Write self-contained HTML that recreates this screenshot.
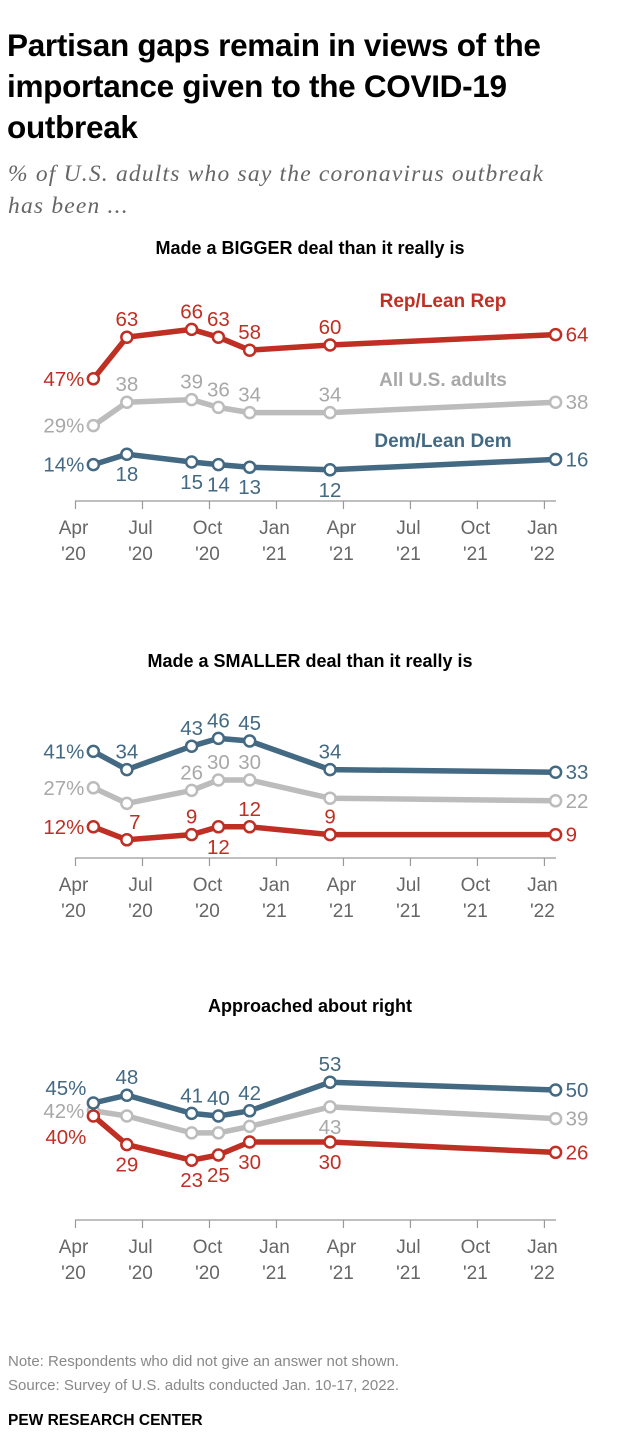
<!DOCTYPE html>
<html><head><meta charset="utf-8">
<style>
body{margin:0;background:#fff;width:620px;height:1446px;overflow:hidden;font-family:"Liberation Sans",sans-serif;}
#title{position:absolute;left:7px;top:25px;margin:0;font-size:31.5px;line-height:41px;font-weight:bold;color:#000;letter-spacing:-0.3px;white-space:nowrap}
#subtitle{position:absolute;left:8px;top:158px;font-family:"Liberation Serif",serif;font-style:italic;font-size:23.5px;line-height:32px;color:#666;white-space:nowrap;letter-spacing:1.2px}
#note{position:absolute;left:8px;top:1350px;font-size:15px;line-height:24px;color:#888}
#brand{position:absolute;left:8px;top:1412px;font-size:15.5px;font-weight:bold;color:#000}
svg{position:absolute;left:0;top:0}
</style></head><body>
<h1 id="title">Partisan gaps remain in views of the<br>importance given to the COVID-19<br>outbreak</h1>
<div id="subtitle">% of U.S. adults who say the coronavirus outbreak<br>has been ...</div>
<div id="note">Note: Respondents who did not give an answer not shown.<br>Source: Survey of U.S. adults conducted Jan. 10-17, 2022.</div>
<div id="brand">PEW RESEARCH CENTER</div>
<svg id="chart" width="620" height="1446"></svg>
<script>
const surveyMonths=[0.8,2.3,5.2,6.4,7.8,11.4,21.5];
const tickMonths=[0,3,6,9,12,15,18,21];
const tickTop=["Apr","Jul","Oct","Jan","Apr","Jul","Oct","Jan"];
const tickBottom=["'20","'20","'20","'21","'21","'21","'21","'22"];
const panelTitles=["Made a BIGGER deal than it really is","Made a SMALLER deal than it really is","Approached about right"];
const bigRep=[47,63,66,63,58,60,64];
const bigAll=[29,38,39,36,34,34,38];
const bigDem=[14,18,15,14,13,12,16];
const smallDem=[41,34,43,46,45,34,33];
const smallAll=[27,21,26,30,30,23,22];
const smallRep=[12,7,9,12,12,9,9];
const rightDem=[45,48,41,40,42,53,50];
const rightAll=[42,40,33.5,33.5,36,43.5,39];
const rightRep=[40,29,23,25,30,30,26];
const rightAllLabels=["42%",null,null,null,null,"43","39"];
const smallAllLabels=["27%",null,"26","30","30",null,"22"];

const C={rep:"#bf2f24",all:"#bcbcbc",dem:"#436983"};
const LC={rep:"#bf2f24",all:"#a8a8a8",dem:"#436983"};
const svg=document.getElementById('chart');
const NS="http://www.w3.org/2000/svg";
function xs(m){return 75.5+m*22.33;}
function mk(tag,attrs,parent){const e=document.createElementNS(NS,tag);for(const k in attrs)e.setAttribute(k,attrs[k]);(parent||svg).appendChild(e);return e;}
function fmt(v,i){return i===0?v+"%":String(v);}

const panels=[
 {base:501,titleY:254,series:[
   {k:'all',v:bigAll,pl:['l','a','a','a','a','a','r']},
   {k:'dem',v:bigDem,pl:['l','b','b','b','b','b','r']},
   {k:'rep',v:bigRep,pl:['l','a','a','a','a','a','r']}],
  names:[{t:"Rep/Lean Rep",k:'rep',y:307},{t:"All U.S. adults",k:'all',y:386},{t:"Dem/Lean Dem",k:'dem',y:447}]},
 {base:858,titleY:667,series:[
   {k:'all',v:smallAll,labels:smallAllLabels,pl:['l','n','a','a','a','n','r']},
   {k:'rep',v:smallRep,pl:['l','ar','a','b','a','a','r']},
   {k:'dem',v:smallDem,pl:['l','a','a','a','a','a','r']}],names:[]},
 {base:1220,titleY:1012,series:[
   {k:'all',v:rightAll,labels:rightAllLabels,pl:['l','n','n','n','n','b','r']},
   {k:'rep',v:rightRep,pl:['lb','b','b','b','b','b','r']},
   {k:'dem',v:rightDem,pl:['la','a','a','a','a','a','r']}],names:[]}
];

panels.forEach((p,pi)=>{
  const g=mk('g',{});
  
  
  const ys=v=>p.base-v*2.6;
  const t=mk('text',{x:310,y:p.titleY,'text-anchor':'middle','font-size':18,'font-weight':'bold',fill:'#000'},g);
  t.textContent=panelTitles[pi];
  
  
  const ax=mk('line',{x1:75,x2:556,y1:p.base,y2:p.base,stroke:'#999','stroke-width':1.2},g);
  
  
  tickMonths.forEach((m,i)=>{
    const x=xs(m);
    mk('line',{x1:x,x2:x,y1:p.base,y2:p.base+8,stroke:'#999','stroke-width':1.2},g);
    const tl=mk('text',{x:x-2,y:p.base+33,'text-anchor':'middle','font-size':19,fill:'#666'},g);
    tl.textContent=tickTop[i];
    
    
    const tb=mk('text',{x:x-2,y:p.base+59,'text-anchor':'middle','font-size':19,fill:'#666'},g);
    tb.textContent=tickBottom[i];
    
    
  });
  p.series.forEach(s=>{
    const pts=s.v.map((v,i)=>[xs(surveyMonths[i]),ys(v)]);
    const pl=mk('polyline',{points:pts.map(q=>q.join(',')).join(' '),fill:'none',stroke:C[s.k],'stroke-width':5.5,'stroke-linejoin':'round'},g);
    
    
    pts.forEach((q,i)=>{
      const c=mk('circle',{cx:q[0],cy:q[1],r:5.5,fill:'#fff',stroke:C[s.k],'stroke-width':2.5},g);
      
      
      const lab=s.labels?s.labels[i]:fmt(s.v[i],i);
      const pos=s.pl[i];
      if(!lab||pos==='n')return;
      let x=q[0],y=q[1],a='middle';
      if(pos==='a'){y-=11;}
      else if(pos==='ar'){x+=8;y-=11;}
      else if(pos==='b'){y+=27;}
      else if(pos==='l'){x-=9;y+=7;a='end';}
      else if(pos==='la'){x-=7;y-=8;a='end';}
      else if(pos==='lb'){x-=7;y+=28;a='end';}
      else if(pos==='r'){x+=10;y+=7;a='start';}
      const tx=mk('text',{x:x,y:y,'text-anchor':a,'font-size':20.5,fill:LC[s.k]},g);
      tx.textContent=lab;
      
      
    });
  });
  p.names.forEach(n=>{
    const tx=mk('text',{x:443,y:n.y,'text-anchor':'middle','font-size':19,'font-weight':'bold',fill:LC[n.k]},g);
    tx.textContent=n.t;
    
    
  });
});
</script>
</body></html>
